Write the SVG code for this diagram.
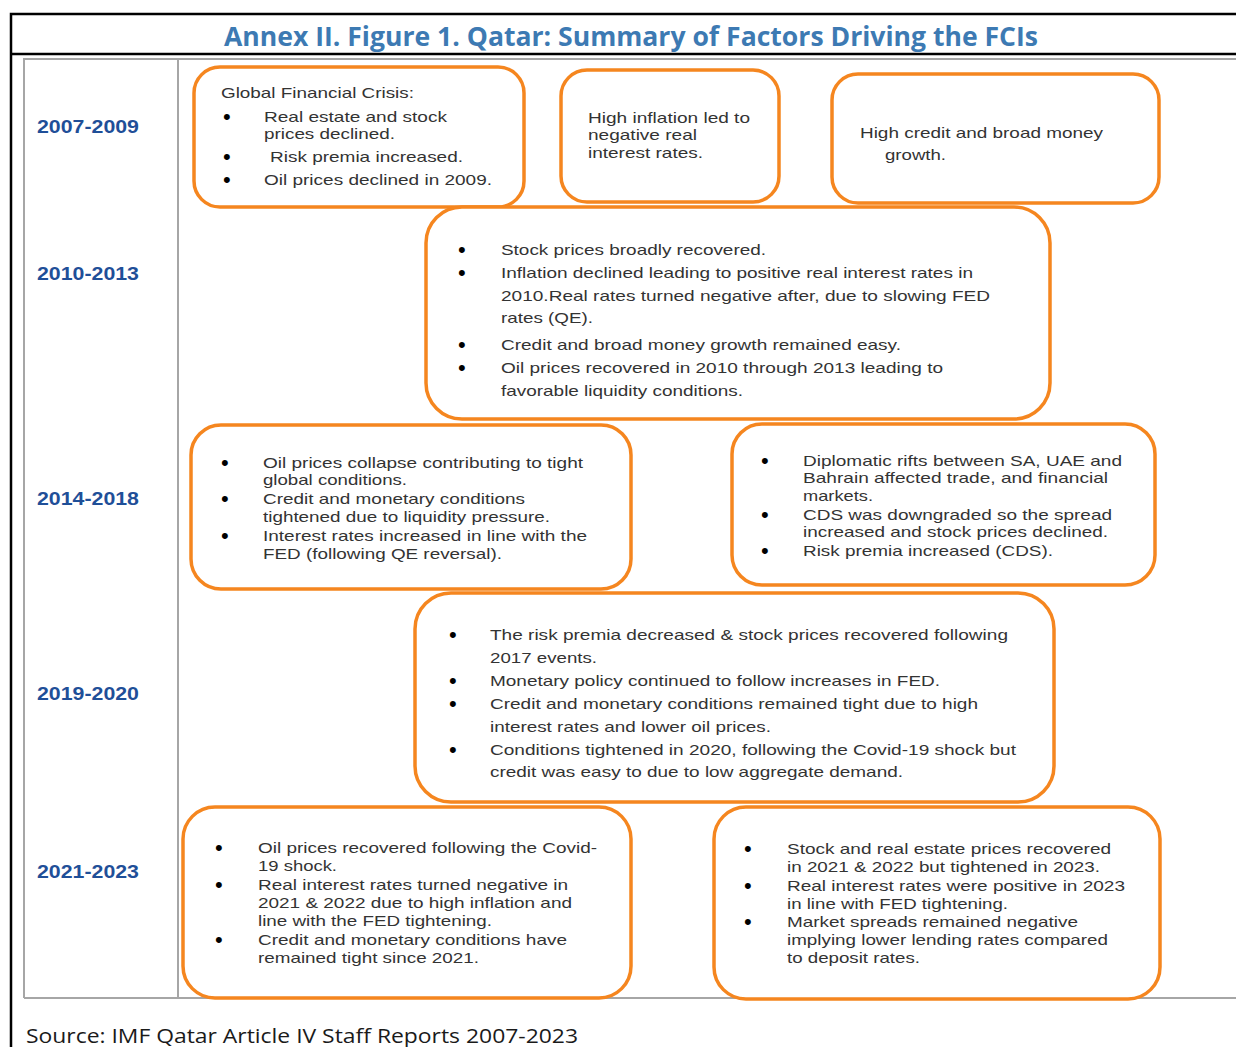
<svg xmlns="http://www.w3.org/2000/svg" width="1236" height="1047" viewBox="0 0 1236 1047">
  <style>
    .frame { stroke: #000; stroke-width: 2.5; fill: none; }
    .grid { stroke: #a6a6a6; stroke-width: 2; fill: none; }
    .box { fill: #fff; stroke: #f5861f; stroke-width: 3.5; }
    .title { font-family: "Open Sans", "Noto Sans", sans-serif; font-weight: 700; font-size: 26px; fill: #3d7ab3; }
    .year { font-family: "Liberation Sans", Arial, sans-serif; font-weight: 700; font-size: 18px; fill: #1f4f98; }
    .txt { font-family: "Liberation Sans", Arial, sans-serif; font-size: 15px; fill: #333; }
    .bul { font-family: "Liberation Sans", Arial, sans-serif; font-size: 22px; fill: #000; }
    .src { font-family: "Open Sans", "Noto Sans", sans-serif; font-size: 20px; fill: #1a1a1a; }
  </style>

  <rect width="1236" height="1047" fill="#fff"/>

  <!-- outer frame and title rule -->
  <g id="frame">
    <path class="frame" d="M11 1047 V14 H1236"/>
    <path class="frame" d="M11 54 H1236"/>
  </g>

  <text class="title" x="224" y="46" textLength="814" lengthAdjust="spacingAndGlyphs">Annex II. Figure 1. Qatar: Summary of Factors Driving the FCIs</text>

  <!-- table lines -->
  <g id="table">
    <path class="grid" d="M24 998 V59 H1236"/>
    <path class="grid" d="M178 59 V998"/>
    <path class="grid" d="M24 998 H1236"/>
  </g>

  <!-- period labels -->
  <g id="years">
    <text class="year" x="37" y="133" textLength="102" lengthAdjust="spacingAndGlyphs">2007-2009</text>
    <text class="year" x="37" y="280" textLength="102" lengthAdjust="spacingAndGlyphs">2010-2013</text>
    <text class="year" x="37" y="505" textLength="102" lengthAdjust="spacingAndGlyphs">2014-2018</text>
    <text class="year" x="37" y="700" textLength="102" lengthAdjust="spacingAndGlyphs">2019-2020</text>
    <text class="year" x="37" y="878" textLength="102" lengthAdjust="spacingAndGlyphs">2021-2023</text>
  </g>

  <!-- connectors: none drawn between the boxes -->
  <g id="connectors"></g>

  <g id="gfc-2007">
    <rect class="box" x="194" y="67" width="330" height="140" rx="26"/>
    <text class="txt" x="221" y="98" textLength="193" lengthAdjust="spacingAndGlyphs">Global Financial Crisis:</text>
    <text class="bul" x="223" y="124">•</text>
    <text class="txt" x="264" y="122" textLength="183" lengthAdjust="spacingAndGlyphs">Real estate and stock</text>
    <text class="txt" x="264" y="139" textLength="131" lengthAdjust="spacingAndGlyphs">prices declined.</text>
    <text class="bul" x="223" y="164">•</text>
    <text class="txt" x="270" y="162" textLength="193" lengthAdjust="spacingAndGlyphs">Risk premia increased.</text>
    <text class="bul" x="223" y="187">•</text>
    <text class="txt" x="264" y="185" textLength="228" lengthAdjust="spacingAndGlyphs">Oil prices declined in 2009.</text>
  </g>

  <g id="inflation-2007">
    <rect class="box" x="561" y="70" width="218" height="132" rx="26"/>
    <text class="txt" x="588" y="123" textLength="162" lengthAdjust="spacingAndGlyphs">High inflation led to</text>
    <text class="txt" x="588" y="140" textLength="109" lengthAdjust="spacingAndGlyphs">negative real</text>
    <text class="txt" x="588" y="158" textLength="115" lengthAdjust="spacingAndGlyphs">interest rates.</text>
  </g>

  <g id="credit-2007">
    <rect class="box" x="832" y="74" width="327" height="129" rx="26"/>
    <text class="txt" x="860" y="138" textLength="243" lengthAdjust="spacingAndGlyphs">High credit and broad money</text>
    <text class="txt" x="885" y="160" textLength="61" lengthAdjust="spacingAndGlyphs">growth.</text>
  </g>

  <g id="period-2010">
    <rect class="box" x="426" y="207" width="624" height="212" rx="36"/>
    <text class="bul" x="458" y="257">•</text>
    <text class="txt" x="501" y="255" textLength="265" lengthAdjust="spacingAndGlyphs">Stock prices broadly recovered.</text>
    <text class="bul" x="458" y="280">•</text>
    <text class="txt" x="501" y="278" textLength="472" lengthAdjust="spacingAndGlyphs">Inflation declined leading to positive real interest rates in</text>
    <text class="txt" x="501" y="301" textLength="489" lengthAdjust="spacingAndGlyphs">2010.Real rates turned negative after, due to slowing FED</text>
    <text class="txt" x="501" y="323" textLength="92" lengthAdjust="spacingAndGlyphs">rates (QE).</text>
    <text class="bul" x="458" y="352">•</text>
    <text class="txt" x="501" y="350" textLength="400" lengthAdjust="spacingAndGlyphs">Credit and broad money growth remained easy.</text>
    <text class="bul" x="458" y="375">•</text>
    <text class="txt" x="501" y="373" textLength="442" lengthAdjust="spacingAndGlyphs">Oil prices recovered in 2010 through 2013 leading to</text>
    <text class="txt" x="501" y="396" textLength="242" lengthAdjust="spacingAndGlyphs">favorable liquidity conditions.</text>
  </g>

  <g id="oil-2014">
    <rect class="box" x="191" y="425" width="440" height="164" rx="30"/>
    <text class="bul" x="221" y="470">•</text>
    <text class="txt" x="263" y="468" textLength="320" lengthAdjust="spacingAndGlyphs">Oil prices collapse contributing to tight</text>
    <text class="txt" x="263" y="485" textLength="144" lengthAdjust="spacingAndGlyphs">global conditions.</text>
    <text class="bul" x="221" y="506">•</text>
    <text class="txt" x="263" y="504" textLength="262" lengthAdjust="spacingAndGlyphs">Credit and monetary conditions</text>
    <text class="txt" x="263" y="522" textLength="287" lengthAdjust="spacingAndGlyphs">tightened due to liquidity pressure.</text>
    <text class="bul" x="221" y="543">•</text>
    <text class="txt" x="263" y="541" textLength="324" lengthAdjust="spacingAndGlyphs">Interest rates increased in line with the</text>
    <text class="txt" x="263" y="559" textLength="239" lengthAdjust="spacingAndGlyphs">FED (following QE reversal).</text>
  </g>

  <g id="rifts-2014">
    <rect class="box" x="732" y="424" width="423" height="161" rx="30"/>
    <text class="bul" x="761" y="468">•</text>
    <text class="txt" x="803" y="466" textLength="319" lengthAdjust="spacingAndGlyphs">Diplomatic rifts between SA, UAE and</text>
    <text class="txt" x="803" y="483" textLength="305" lengthAdjust="spacingAndGlyphs">Bahrain affected trade, and financial</text>
    <text class="txt" x="803" y="501" textLength="70" lengthAdjust="spacingAndGlyphs">markets.</text>
    <text class="bul" x="761" y="522">•</text>
    <text class="txt" x="803" y="520" textLength="309" lengthAdjust="spacingAndGlyphs">CDS was downgraded so the spread</text>
    <text class="txt" x="803" y="537" textLength="305" lengthAdjust="spacingAndGlyphs">increased and stock prices declined.</text>
    <text class="bul" x="761" y="558">•</text>
    <text class="txt" x="803" y="556" textLength="250" lengthAdjust="spacingAndGlyphs">Risk premia increased (CDS).</text>
  </g>

  <g id="period-2019">
    <rect class="box" x="415" y="593" width="639" height="209" rx="36"/>
    <text class="bul" x="449" y="642">•</text>
    <text class="txt" x="490" y="640" textLength="518" lengthAdjust="spacingAndGlyphs">The risk premia decreased &amp; stock prices recovered following</text>
    <text class="txt" x="490" y="663" textLength="107" lengthAdjust="spacingAndGlyphs">2017 events.</text>
    <text class="bul" x="449" y="688">•</text>
    <text class="txt" x="490" y="686" textLength="450" lengthAdjust="spacingAndGlyphs">Monetary policy continued to follow increases in FED.</text>
    <text class="bul" x="449" y="711">•</text>
    <text class="txt" x="490" y="709" textLength="488" lengthAdjust="spacingAndGlyphs">Credit and monetary conditions remained tight due to high</text>
    <text class="txt" x="490" y="732" textLength="281" lengthAdjust="spacingAndGlyphs">interest rates and lower oil prices.</text>
    <text class="bul" x="449" y="757">•</text>
    <text class="txt" x="490" y="755" textLength="526" lengthAdjust="spacingAndGlyphs">Conditions tightened in 2020, following the Covid-19 shock but</text>
    <text class="txt" x="490" y="777" textLength="413" lengthAdjust="spacingAndGlyphs">credit was easy to due to low aggregate demand.</text>
  </g>

  <g id="oil-2021">
    <rect class="box" x="183" y="807" width="448" height="191" rx="32"/>
    <text class="bul" x="215" y="855">•</text>
    <text class="txt" x="258" y="853" textLength="339" lengthAdjust="spacingAndGlyphs">Oil prices recovered following the Covid-</text>
    <text class="txt" x="258" y="871" textLength="79" lengthAdjust="spacingAndGlyphs">19 shock.</text>
    <text class="bul" x="215" y="892">•</text>
    <text class="txt" x="258" y="890" textLength="310" lengthAdjust="spacingAndGlyphs">Real interest rates turned negative in</text>
    <text class="txt" x="258" y="908" textLength="314" lengthAdjust="spacingAndGlyphs">2021 &amp; 2022 due to high inflation and</text>
    <text class="txt" x="258" y="926" textLength="234" lengthAdjust="spacingAndGlyphs">line with the FED tightening.</text>
    <text class="bul" x="215" y="947">•</text>
    <text class="txt" x="258" y="945" textLength="309" lengthAdjust="spacingAndGlyphs">Credit and monetary conditions have</text>
    <text class="txt" x="258" y="963" textLength="221" lengthAdjust="spacingAndGlyphs">remained tight since 2021.</text>
  </g>

  <g id="stock-2021">
    <rect class="box" x="714" y="807" width="446" height="192" rx="32"/>
    <text class="bul" x="744" y="856">•</text>
    <text class="txt" x="787" y="854" textLength="324" lengthAdjust="spacingAndGlyphs">Stock and real estate prices recovered</text>
    <text class="txt" x="787" y="872" textLength="313" lengthAdjust="spacingAndGlyphs">in 2021 &amp; 2022 but tightened in 2023.</text>
    <text class="bul" x="744" y="893">•</text>
    <text class="txt" x="787" y="891" textLength="338" lengthAdjust="spacingAndGlyphs">Real interest rates were positive in 2023</text>
    <text class="txt" x="787" y="909" textLength="221" lengthAdjust="spacingAndGlyphs">in line with FED tightening.</text>
    <text class="bul" x="744" y="929">•</text>
    <text class="txt" x="787" y="927" textLength="291" lengthAdjust="spacingAndGlyphs">Market spreads remained negative</text>
    <text class="txt" x="787" y="945" textLength="321" lengthAdjust="spacingAndGlyphs">implying lower lending rates compared</text>
    <text class="txt" x="787" y="963" textLength="133" lengthAdjust="spacingAndGlyphs">to deposit rates.</text>
  </g>

  <text class="src" x="26" y="1043" textLength="552" lengthAdjust="spacingAndGlyphs">Source: IMF Qatar Article IV Staff Reports 2007-2023</text>
</svg>
